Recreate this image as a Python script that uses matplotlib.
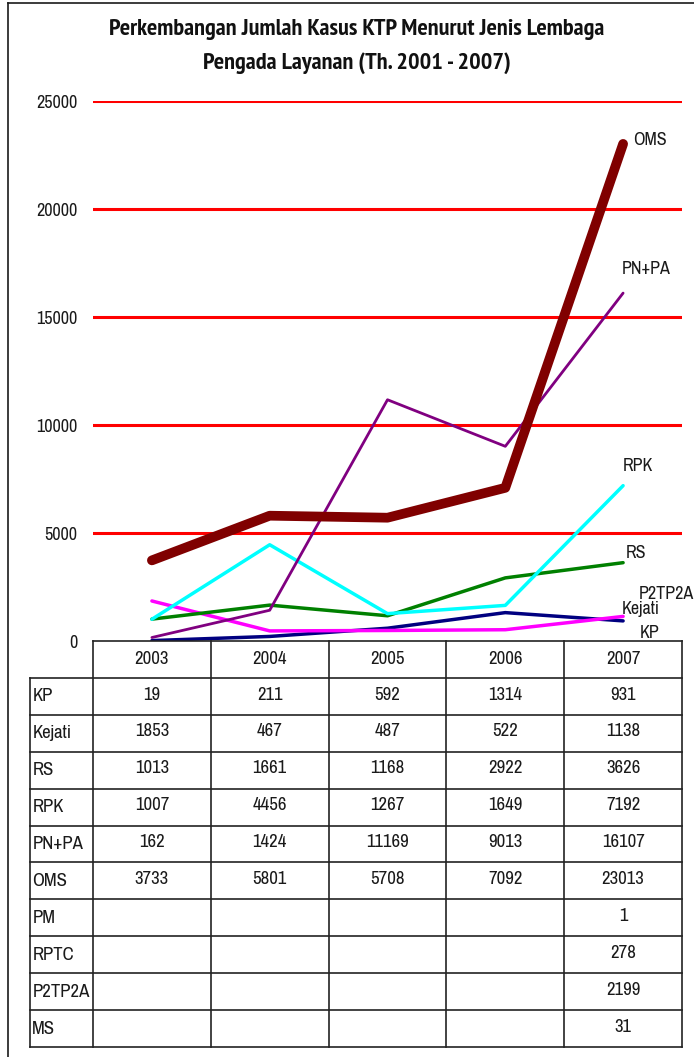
import matplotlib
matplotlib.use("Agg")
import matplotlib.pyplot as plt
from matplotlib import font_manager

years = ["2003", "2004", "2005", "2006", "2007"]
row_names = ["KP", "Kejati", "RS", "RPK", "PN+PA", "OMS", "PM", "RPTC", "P2TP2A", "MS"]
kp = [19, 211, 592, 1314, 931]
kejati = [1853, 467, 487, 522, 1138]
rs = [1013, 1661, 1168, 2922, 3626]
rpk = [1007, 4456, 1267, 1649, 7192]
pnpa = [162, 1424, 11169, 9013, 16107]
oms = [3733, 5801, 5708, 7092, 23013]
pm = [None, None, None, None, 1]
rptc = [None, None, None, None, 278]
p2tp2a = [None, None, None, None, 2199]
ms = [None, None, None, None, 31]
yticks = [0, 5000, 10000, 15000, 20000, 25000]

# pick an Arial Narrow look-alike if one is installed
fonts = font_manager.fontManager.ttflist
names = {f.name for f in fonts}
bold_names = {f.name for f in fonts if f.weight in (600, 700, "bold", "semibold")}
wanted = ["Liberation Sans Narrow", "Arial Narrow", "Archivo Narrow", "PT Sans Narrow",
          "Roboto Condensed", "Pragati Narrow", "Open Sans Condensed", "Fira Sans Condensed",
          "IBM Plex Sans Condensed", "Encode Sans Condensed", "Asap Condensed"]
FAM = [n for n in wanted if n in names][:1] + ["DejaVu Sans"]
TFAM = [n for n in wanted if n in bold_names][:1] + FAM
plt.rcParams["font.family"] = FAM

W, H = 694, 1057
fig = plt.figure(figsize=(W / 100, H / 100), dpi=100)

def box(x0, y0, x1, y1):
    return [x0 / W, 1 - y1 / H, (x1 - x0) / W, (y1 - y0) / H]

TXT = "#1a1a1a"
ax = fig.add_axes(box(93, 101, 682, 641))
ax.set_xlim(-0.5, 4.5)
ax.set_ylim(0, 25000)
for s in ax.spines.values():
    s.set_visible(False)
ax.set_xticks([])
ax.set_yticks(yticks)
ax.set_yticklabels([str(v) for v in yticks], fontsize=13, color=TXT)
ax.tick_params(axis="y", length=0, pad=11)
for v in yticks[1:]:
    ax.axhline(v, color="#ff0000", lw=2.2, zorder=1)

x = list(range(len(years)))
series = [
    (kp, "KP", "#000080", 2.5, (12, -9)),
    (kejati, "Kejati", "#ff00ff", 2.5, (-1, 5)),
    (rs, "RS", "#008000", 2.5, (2, 7)),
    (rpk, "RPK", "#00ffff", 2.5, (0, 14)),
    (pnpa, "PN+PA", "#800080", 2.0, (-1, 17)),
    (oms, "OMS", "#800000", 7.0, (7, 3)),
]
for vals, name, col, lw, off in series:
    ax.plot(x, vals, color=col, lw=lw, solid_capstyle="round", zorder=3)
    ax.annotate(name, (x[-1], vals[-1]), xytext=off, textcoords="offset points",
                fontsize=13, color=TXT, va="center", ha="left",
                annotation_clip=False)
ax.annotate("P2TP2A", (x[-1], p2tp2a[-1]), xytext=(11, 0), textcoords="offset points",
            fontsize=13, color=TXT, va="center", ha="left", annotation_clip=False)

fig.text(357 / W, 1 - 30 / H, "Perkembangan Jumlah Kasus KTP Menurut Jenis Lembaga",
         ha="center", va="center", fontsize=17.5, fontweight="bold", color="#111111",
         family=TFAM)
fig.text(357 / W, 1 - 63 / H, "Pengada Layanan (Th. 2001 - 2007)",
         ha="center", va="center", fontsize=17.5, fontweight="bold", color="#111111",
         family=TFAM)

# data table below the chart, sharing the category positions
tax = fig.add_axes(box(30, 641, 682, 1047))
xmin = -0.5 - (93 - 30) / ((682 - 93) / 5)
tax.set_xlim(xmin, 4.5)
nrows = len(row_names) + 1
tax.set_ylim(nrows, 0)
tax.axis("off")
lc, lwid = "#222222", 1.2
tax.plot([-0.5, 4.5], [0, 0], color=lc, lw=lwid, clip_on=False)
for r in range(1, nrows + 1):
    tax.plot([xmin, 4.5], [r, r], color=lc, lw=lwid, clip_on=False)
tax.plot([xmin, xmin], [1, nrows], color=lc, lw=lwid, clip_on=False)
for i in range(len(years) + 1):
    tax.plot([i - 0.5, i - 0.5], [0, nrows], color=lc, lw=lwid, clip_on=False)
for i, yr in enumerate(years):
    tax.text(i, 0.5, yr, ha="center", va="center", fontsize=13.5, color=TXT)
table_vals = [kp, kejati, rs, rpk, pnpa, oms, pm, rptc, p2tp2a, ms]
for r, (nm, vals) in enumerate(zip(row_names, table_vals), start=1):
    tax.text(xmin + 0.02, r + 0.5, nm, ha="left", va="center", fontsize=13.5, color=TXT)
    for i, v in enumerate(vals):
        if v is not None:
            tax.text(i, r + 0.45, str(v), ha="center", va="center", fontsize=13.5, color=TXT)

# outer frame lines (left and top)
fig.add_artist(plt.Line2D([8 / W, 8 / W], [0, 1 - 3 / H], color=TXT, lw=1.2))
fig.add_artist(plt.Line2D([8 / W, 1], [1 - 3 / H, 1 - 3 / H], color=TXT, lw=1.2))

fig.savefig("out.png", dpi=100)
